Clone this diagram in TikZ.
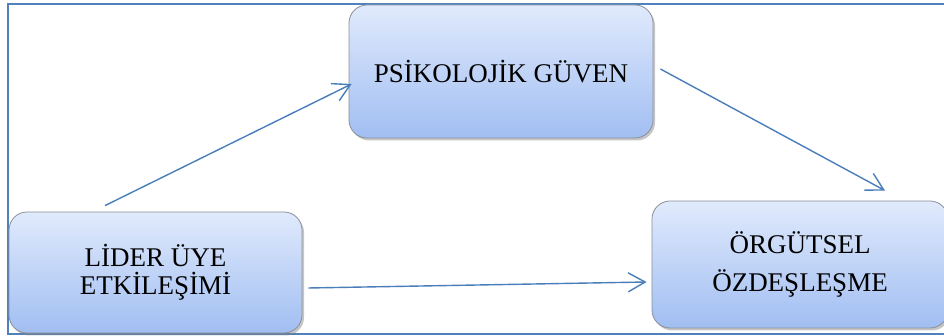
\documentclass[tikz,border=0pt]{standalone}
\usepackage{fontspec}
\setmainfont{Liberation Serif}
\usepackage{tikz}
\usetikzlibrary{arrows.meta,shadows}
\definecolor{cerceve}{HTML}{4F81BD}
\definecolor{oktone}{HTML}{4A7EBB}
\definecolor{kututop}{HTML}{E0EAFC}
\definecolor{kutubot}{HTML}{A1BEF2}
\definecolor{kutucizgi}{HTML}{8A8F98}
\tikzset{kutu/.style={draw=kutucizgi, line width=0.8pt, rounded corners=18pt,
    top color=kututop, bottom color=kutubot, align=center, inner sep=0pt,
    drop shadow={shadow xshift=2pt, shadow yshift=-2.5pt, fill=black!50, opacity=0.45},
    font=\fontsize{27}{28}\selectfont},
  ok/.style={draw=oktone, line width=1.4pt, -{Straight Barb[length=17pt,width=19pt]}}}

\begin{document}
\begin{tikzpicture}[x=1pt,y=1pt]
    \useasboundingbox (0,0) rectangle (944,336);
    \draw [cerceve, line width=2pt] (8,2) rectangle (947,332);
    \node [kutu, minimum width=293pt, minimum height=121pt] (lider) at (155.5,63.5) {LİDER ÜYE\\ETKİLEŞİMİ};
    \node [kutu, minimum width=304pt, minimum height=133pt] (guven) at (501,264.5) {PSİKOLOJİK GÜVEN};
    \node [kutu, minimum width=296pt, minimum height=127pt, font=\fontsize{27}{38}\selectfont] (orgut) at (800,71.5) {ÖRGÜTSEL\\ÖZDEŞLEŞME};
    % oklar
    \draw [ok] ([xshift=-50.5pt,yshift=6pt]lider.north) -- ([xshift=3pt,yshift=-12.5pt]guven.west);
    \draw [ok] ([xshift=7pt,yshift=2.5pt]guven.east) -- ([xshift=85pt,yshift=10pt]orgut.north);
    \draw [ok] ([xshift=6pt,yshift=-15.5pt]lider.east) -- ([xshift=-5pt,yshift=-17.5pt]orgut.west);
\end{tikzpicture}
\end{document}
